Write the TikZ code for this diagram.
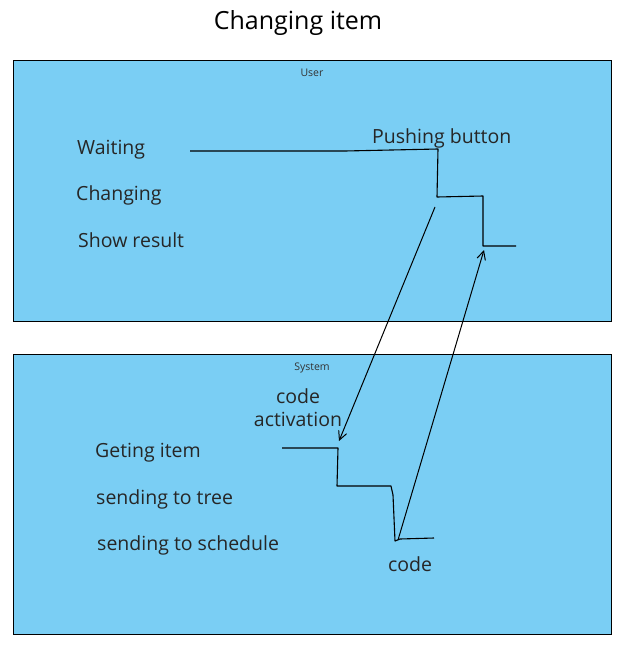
\documentclass[tikz,border=0pt]{standalone}
\usepackage{fontspec}
\setmainfont{Open Sans}
\usepackage{xcolor}
\usepackage{tikz}
\usetikzlibrary{arrows.meta}
\definecolor{laneblue}{RGB}{122,206,244}
\tikzset{>=stealth}
\tikzset{
  lane/.style={draw=black, fill=laneblue, line width=0.8pt},
  lanename/.style={font=\fontsize{10.5}{12}\selectfont, text=black!80},
  lbl/.style={font=\fontsize{19.5}{23}\selectfont, text=black!85, anchor=west, inner sep=0pt},
  hand/.style={line width=1.1pt, line join=round},
  push/.style={-{Straight Barb[length=3mm, width=3mm]}, line width=1pt}
}

\begin{document}
\begin{tikzpicture}[x=1pt, y=-1pt]
        \useasboundingbox (0,0) rectangle (643,669);
        % Title
        \node (title) at (298,23) {\fontsize{25}{29}\selectfont Changing item};

        % Lanes
        \draw [lane] (13,60) rectangle (611,321);
        \node[lanename] (user) at (312,73) {User};
        \draw [lane] (13,354) rectangle (611,634);
        \node[lanename] (system) at (312,368) {System};

        % User states
        \node[lbl] (waiting) at (77,150) {Waiting};
        \node[lbl] (changing) at (76,195) {Changing};
        \node[lbl] (result) at (78,240) {Show result};
        \node[lbl] (pushing) at (372,138) {Pushing button};

        % System states
        \node[lbl, anchor=center, align=center] (activation) at (298,408) {code\\activation};
        \node[lbl] (geting) at (95,453) {Geting item};
        \node[lbl] (tree) at (96,499) {sending to tree};
        \node[lbl] (schedule) at (97,545) {sending to schedule};
        \node[lbl, anchor=center] (code) at (410,564) {code};

        % User timeline
        \coordinate (u0) at (190,151);
        \coordinate (u1) at (438,149);
        \coordinate (u2) at (437,197);
        \coordinate (u3) at (483,196);
        \coordinate (u4) at (483,246);
        \coordinate (u5) at (516,246);
        \draw [hand] (u0) -- (345,151) -- (u1) -- (u2) -- (u3) -- (u4) -- (u5);

        % System timeline
        \coordinate (s0) at (282,448);
        \coordinate (s1) at (338,448);
        \coordinate (s2) at (337,486);
        \coordinate (s3) at (391,486);
        \coordinate (s4) at (395,541);
        \coordinate (s5) at (434,538);
        \draw [hand] (s0) -- (s1) -- (s2) -- (s3) -- (393,495) -- (s4) -- (400,539) -- (s5);

        % Messages
        \coordinate (a0) at (435,207);
        \coordinate (a1) at (339,441);
        \coordinate (b0) at (398,540);
        \coordinate (b1) at (484,250);
        \draw [push] (a0) -- (a1);
        \draw [push] (b0) -- (b1);
      \end{tikzpicture}
\end{document}
